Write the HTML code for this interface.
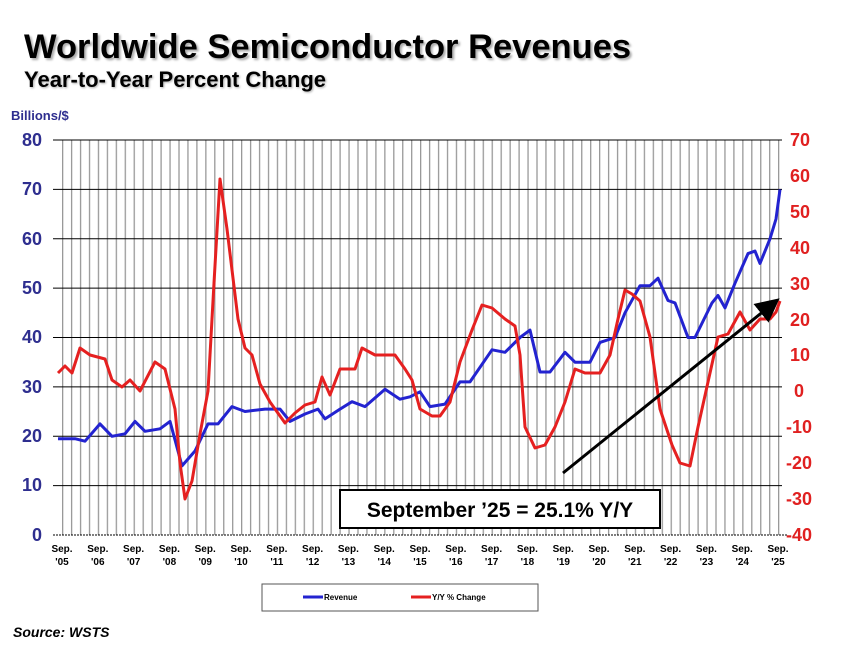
<!DOCTYPE html>
<html><head><meta charset="utf-8"><style>
body{margin:0;background:#fff;width:851px;height:649px;overflow:hidden}
svg{display:block}
</style></head><body>
<svg width="851" height="649" viewBox="0 0 851 649" xmlns="http://www.w3.org/2000/svg" font-family="Liberation Sans, Arial, sans-serif">
<defs>
<pattern id="vg" x="62" y="0" width="8.95" height="649" patternUnits="userSpaceOnUse">
<rect x="0" y="0" width="1.3" height="649" fill="#999"/>
</pattern>
<marker id="ah" markerWidth="8" markerHeight="8" refX="6" refY="4" orient="auto" markerUnits="strokeWidth"><path d="M0,0 L8,4 L0,8 z" fill="#000"/></marker>
</defs>
<text x="24" y="58" font-size="34.5" font-weight="bold" fill="#000" style="text-shadow:2px 2px 2px #aaa">Worldwide Semiconductor Revenues</text>
<text x="24" y="87" font-size="22" font-weight="bold" fill="#000" style="text-shadow:1px 1px 2px #aaa">Year-to-Year Percent Change</text>
<text x="11" y="120" font-size="13" font-weight="bold" fill="#2e2e8f">Billions/$</text>

<rect x="58" y="140" width="724" height="395" fill="url(#vg)"/>
<g stroke="#000" stroke-width="1">
<line x1="53" y1="140" x2="782" y2="140"/><line x1="53" y1="189.4" x2="782" y2="189.4"/><line x1="53" y1="238.8" x2="782" y2="238.8"/><line x1="53" y1="288.1" x2="782" y2="288.1"/><line x1="53" y1="337.5" x2="782" y2="337.5"/><line x1="53" y1="386.9" x2="782" y2="386.9"/><line x1="53" y1="436.3" x2="782" y2="436.3"/><line x1="53" y1="485.6" x2="782" y2="485.6"/><line x1="53" y1="535" x2="787" y2="535" stroke-dasharray="2,1"/>
</g>
<g font-size="18" font-weight="bold" fill="#2e2e8f" text-anchor="end">
<text x="42" y="146">80</text><text x="42" y="195">70</text><text x="42" y="245">60</text><text x="42" y="294">50</text><text x="42" y="343">40</text><text x="42" y="393">30</text><text x="42" y="442">20</text><text x="42" y="491">10</text><text x="42" y="541">0</text>
</g>
<g font-size="18" font-weight="bold" fill="#e02020">
<text x="790" y="146">70</text><text x="790" y="182">60</text><text x="790" y="218">50</text><text x="790" y="254">40</text><text x="790" y="290">30</text><text x="790" y="326">20</text><text x="790" y="361">10</text><text x="794" y="397">0</text><text x="786" y="433">-10</text><text x="786" y="469">-20</text><text x="786" y="505">-30</text><text x="786" y="541">-40</text>
</g>
<g font-size="10" font-weight="bold" fill="#000" text-anchor="middle">
<text x="62" y="552">Sep.</text><text x="62" y="565">'05</text>
<text x="97.8" y="552">Sep.</text><text x="97.8" y="565">'06</text>
<text x="133.6" y="552">Sep.</text><text x="133.6" y="565">'07</text>
<text x="169.4" y="552">Sep.</text><text x="169.4" y="565">'08</text>
<text x="205.2" y="552">Sep.</text><text x="205.2" y="565">'09</text>
<text x="241" y="552">Sep.</text><text x="241" y="565">'10</text>
<text x="276.8" y="552">Sep.</text><text x="276.8" y="565">'11</text>
<text x="312.6" y="552">Sep.</text><text x="312.6" y="565">'12</text>
<text x="348.4" y="552">Sep.</text><text x="348.4" y="565">'13</text>
<text x="384.2" y="552">Sep.</text><text x="384.2" y="565">'14</text>
<text x="420" y="552">Sep.</text><text x="420" y="565">'15</text>
<text x="455.8" y="552">Sep.</text><text x="455.8" y="565">'16</text>
<text x="491.6" y="552">Sep.</text><text x="491.6" y="565">'17</text>
<text x="527.4" y="552">Sep.</text><text x="527.4" y="565">'18</text>
<text x="563.2" y="552">Sep.</text><text x="563.2" y="565">'19</text>
<text x="599" y="552">Sep.</text><text x="599" y="565">'20</text>
<text x="634.8" y="552">Sep.</text><text x="634.8" y="565">'21</text>
<text x="670.6" y="552">Sep.</text><text x="670.6" y="565">'22</text>
<text x="706.4" y="552">Sep.</text><text x="706.4" y="565">'23</text>
<text x="742.2" y="552">Sep.</text><text x="742.2" y="565">'24</text>
<text x="778" y="552">Sep.</text><text x="778" y="565">'25</text>
</g>

<polyline fill="none" stroke="#2323d0" stroke-width="3" stroke-linejoin="round" points="58,438.7 75,438.7 85,441.2 100,423.9 112,436.3 125,433.8 135,421.4 145,431.3 160,428.8 170,421.4 182,465.9 195,451.0 208,423.9 218,423.9 232,406.6 245,411.5 265,409.1 280,409.1 290,421.4 305,414.0 318,409.1 325,418.9 340,409.1 352,401.7 365,406.6 385,389.3 400,399.2 410,396.8 420,391.8 430,406.6 445,404.1 460,381.9 470,381.9 492,349.8 505,352.3 520,337.5 530,330.1 540,372.0 550,372.0 565,352.3 575,362.2 590,362.2 600,342.4 615,337.5 625,312.8 640,285.7 650,285.7 658,278.2 668,300.5 675,302.9 688,337.5 695,337.5 712,302.9 718,295.5 725,307.9 735,283.2 748,253.6 755,251.1 760,263.4 770,238.8 776,219.0 780,189.4"/>

<polyline fill="none" stroke="#e52020" stroke-width="3" stroke-linejoin="round" points="58,373 65,366 72,373 80,348 90,355 105,359 112,380 122,387 130,380 140,391 155,362 165,369 175,409 180,463 185,499 192,481 200,434 208,391 214,283 220,179 227,229 238,319 245,348 252,355 260,384 270,402 285,423 295,413 305,405 315,402 322,377 330,395 340,369 355,369 362,348 375,355 395,355 405,369 412,380 420,409 432,416 440,416 450,402 460,362 472,330 482,305 492,308 505,319 515,326 520,355 525,427 535,448 545,445 555,427 565,402 575,369 585,373 600,373 610,355 618,319 625,290 632,294 640,301 650,337 660,409 672,445 680,463 690,466 698,427 710,373 718,337 728,334 740,312 750,330 760,319 770,319 776,312 780,301"/>

<line x1="563" y1="473" x2="775" y2="302" stroke="#000" stroke-width="3" marker-end="url(#ah)"/>

<rect x="340" y="490" width="320" height="38" fill="#fff" stroke="#000" stroke-width="2"/>
<text x="500" y="517" font-size="21" font-weight="bold" text-anchor="middle" fill="#000">September ’25 = 25.1% Y/Y</text>

<rect x="262" y="584" width="276" height="27" fill="#fff" stroke="#555" stroke-width="1"/>
<line x1="303" y1="597" x2="323" y2="597" stroke="#2323d0" stroke-width="3"/>
<text x="324" y="600" font-size="8" font-weight="bold">Revenue</text>
<line x1="411" y1="597" x2="431" y2="597" stroke="#e52020" stroke-width="3"/>
<text x="432" y="600" font-size="8" font-weight="bold">Y/Y % Change</text>

<text x="13" y="637" font-size="14" font-weight="bold" font-style="italic">Source: WSTS</text>
</svg>
</body></html>
